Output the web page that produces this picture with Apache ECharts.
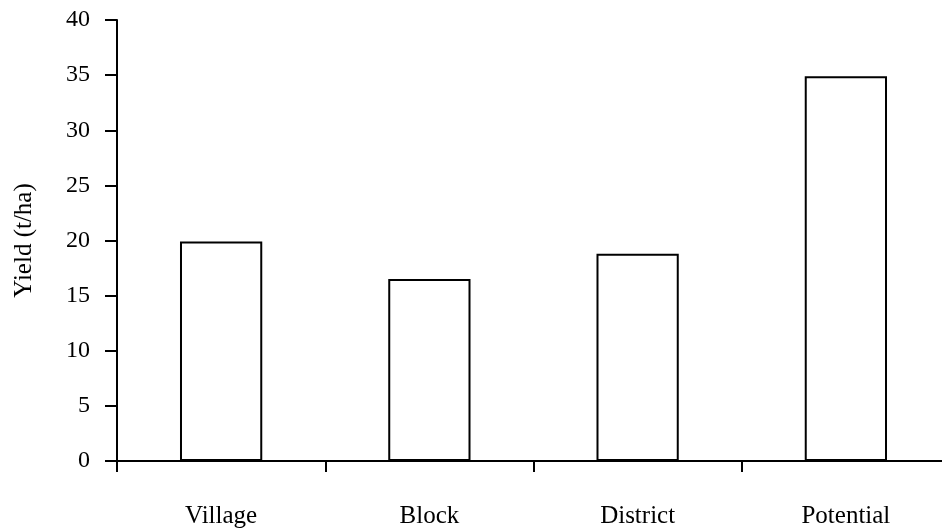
<!DOCTYPE html>
<html>
<head>
<meta charset="utf-8">
<script src="https://cdn.jsdelivr.net/npm/echarts@6/dist/echarts.min.js"></script>
<style>
  html, body { margin: 0; padding: 0; background: #fff; }
  #chart { width: 942px; height: 529px; }
</style>
</head>
<body>
<div id="chart"></div>
<script>
// data
const categories = ["Village", "Block", "District", "Potential"];
const yieldValues = [19.9, 16.5, 18.8, 34.9];

const myChart = echarts.init(document.getElementById("chart"));
const font = "'Liberation Serif', 'Times New Roman', serif";
const option = {
  backgroundColor: "#fff",
  animation: false,
  grid: {
    left: 117,
    right: -8,
    top: 20,
    bottom: 68,
    outerBoundsMode: "none",
    containLabel: false,
  },
  xAxis: {
    type: "category",
    data: categories,
    boundaryGap: true,
    axisLine: { show: true, lineStyle: { color: "#000", width: 2 } },
    axisTick: { show: true, alignWithLabel: false, length: 11, lineStyle: { color: "#000", width: 2 } },
    axisLabel: {
      color: "#000",
      fontFamily: font,
      fontSize: 25,
      margin: 43,
    },
    splitLine: { show: false },
  },
  yAxis: {
    type: "value",
    min: 0,
    max: 40,
    interval: 5,
    name: "Yield (t/ha)",
    nameLocation: "middle",
    nameGap: 80,
    nameTextStyle: { color: "#000", fontFamily: font, fontSize: 25 },
    axisLine: { show: true, lineStyle: { color: "#000", width: 2 } },
    axisTick: { show: true, length: 12, lineStyle: { color: "#000", width: 2 } },
    axisLabel: {
      color: "#000",
      fontFamily: font,
      fontSize: 24,
      margin: 27,
    },
    splitLine: { show: false },
  },
  series: [
    {
      name: "Yield",
      type: "bar",
      data: yieldValues,
      barWidth: "39.5%",
      itemStyle: {
        color: "#fff",
        borderColor: "#000",
        borderWidth: 2,
      },
    },
  ],
};
myChart.setOption(option);
</script>
</body>
</html>
